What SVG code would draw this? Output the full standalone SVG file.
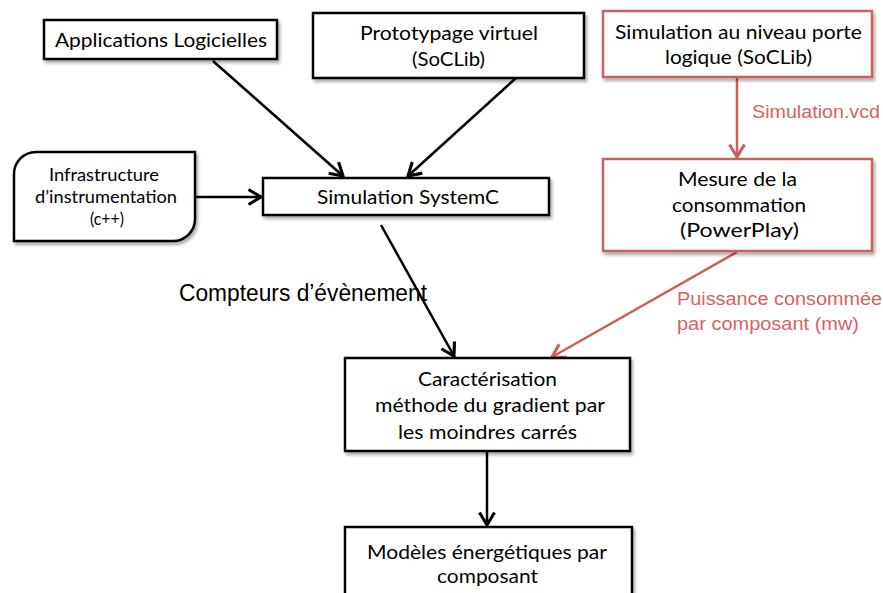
<svg xmlns="http://www.w3.org/2000/svg" width="883" height="593" viewBox="0 0 883 593">
<style>
.box{fill:#fff;stroke:#000;stroke-width:2.5;filter:url(#sh)}
.rbox{fill:#fff;stroke:#cc5f5a;stroke-width:2.5;filter:url(#sh)}
.t{font-family:Lato,"Liberation Sans",Arial,sans-serif;font-size:19px;fill:#000}
.ts{font-family:Lato,"Liberation Sans",Arial,sans-serif;font-size:16.5px;fill:#000}
.lbl{font-family:"Liberation Sans",Arial,sans-serif;font-size:17.5px;fill:#d6635e}
.big{font-family:"Liberation Sans",Arial,sans-serif;font-size:23px;fill:#000}
.blk{fill:none;stroke:#000;stroke-width:2.5;marker-end:url(#ab)}
.red{fill:none;stroke:#cc5f5a;stroke-width:2.5;marker-end:url(#ar)}
</style>
<defs>
<filter id="sh" x="-10%" y="-10%" width="125%" height="130%">
<feDropShadow dx="2" dy="3" stdDeviation="1.5" flood-color="#000" flood-opacity="0.3"/>
</filter>
<marker id="ab" markerUnits="userSpaceOnUse" markerWidth="20" markerHeight="20" viewBox="-12 -8 14 16" refX="0" refY="0" orient="auto">
<path d="M-10,-6 L0,0 L-10,6" fill="none" stroke="#000" stroke-width="2.5"/>
</marker>
<marker id="ar" markerUnits="userSpaceOnUse" markerWidth="20" markerHeight="20" viewBox="-12 -8 14 16" refX="0" refY="0" orient="auto">
<path d="M-10,-6 L0,0 L-10,6" fill="none" stroke="#cc5f5a" stroke-width="2.5"/>
</marker>
</defs>
<rect width="883" height="593" fill="#fff"/>

<g id="connectors">
<line class="blk" x1="213" y1="61" x2="343" y2="176"/>
<line class="blk" x1="516" y1="78" x2="408" y2="176"/>
<line class="blk" x1="195" y1="197" x2="261" y2="197"/>
<line class="blk" x1="381" y1="225" x2="454" y2="356"/>
<line class="blk" x1="487" y1="452" x2="487" y2="525"/>
<line class="red" x1="737" y1="78" x2="737" y2="157"/>
<line class="red" x1="737" y1="252" x2="552" y2="357"/>
<text class="lbl" x="752" y="118" textLength="128" lengthAdjust="spacingAndGlyphs">Simulation.vcd</text>
<text class="lbl" x="677" y="305" textLength="205" lengthAdjust="spacingAndGlyphs">Puissance consommée</text>
<text class="lbl" x="677" y="330" textLength="182" lengthAdjust="spacingAndGlyphs">par composant (mw)</text>
<text class="big" x="179" y="301" textLength="248" lengthAdjust="spacingAndGlyphs">Compteurs d’évènement</text>
</g>

<g id="applications">
<rect class="box" x="44" y="20" width="233" height="39"/>
<text class="t" x="55" y="47" textLength="212" lengthAdjust="spacingAndGlyphs">Applications Logicielles</text>
</g>

<g id="prototypage">
<rect class="box" x="313" y="13" width="271" height="65"/>
<text class="t" x="360" y="40" textLength="178" lengthAdjust="spacingAndGlyphs">Prototypage virtuel</text>
<text class="t" x="412" y="66" textLength="73" lengthAdjust="spacingAndGlyphs">(SoCLib)</text>
</g>

<g id="simulation-porte">
<rect class="rbox" x="603" y="11" width="269" height="66"/>
<text class="t" x="615" y="39" textLength="247" lengthAdjust="spacingAndGlyphs">Simulation au niveau porte</text>
<text class="t" x="665" y="64" textLength="147" lengthAdjust="spacingAndGlyphs">logique (SoCLib)</text>
</g>

<g id="infrastructure">
<path class="box" d="M14,174 A22,22 0 0 1 36,152 L195,152 L195,219 A22,22 0 0 1 173,241 L14,241 Z"/>
<text class="ts" x="49" y="181" textLength="110" lengthAdjust="spacingAndGlyphs">Infrastructure</text>
<text class="ts" x="35" y="203" textLength="142" lengthAdjust="spacingAndGlyphs">d’instrumentation</text>
<text class="ts" x="90" y="225" textLength="34" lengthAdjust="spacingAndGlyphs">(c++)</text>
</g>

<g id="simulation-systemc">
<rect class="box" x="263" y="178" width="286" height="37"/>
<text class="t" x="317" y="204" textLength="182" lengthAdjust="spacingAndGlyphs">Simulation SystemC</text>
</g>

<g id="mesure">
<rect class="rbox" x="603" y="159" width="269" height="92"/>
<text class="t" x="678" y="186" textLength="119" lengthAdjust="spacingAndGlyphs">Mesure de la</text>
<text class="t" x="672" y="212" textLength="134" lengthAdjust="spacingAndGlyphs">consommation</text>
<text class="t" x="680" y="237" textLength="119" lengthAdjust="spacingAndGlyphs">(PowerPlay)</text>
</g>

<g id="caracterisation">
<rect class="box" x="345" y="358" width="285" height="93"/>
<text class="t" x="418" y="386" textLength="139" lengthAdjust="spacingAndGlyphs">Caractérisation</text>
<text class="t" x="375" y="412" textLength="230" lengthAdjust="spacingAndGlyphs">méthode du gradient par</text>
<text class="t" x="398" y="439" textLength="179" lengthAdjust="spacingAndGlyphs">les moindres carrés</text>
</g>

<g id="modeles">
<rect class="box" x="345" y="527" width="287" height="80"/>
<text class="t" x="367" y="559" textLength="240" lengthAdjust="spacingAndGlyphs">Modèles énergétiques par</text>
<text class="t" x="437" y="583" textLength="101" lengthAdjust="spacingAndGlyphs">composant</text>
</g>
</svg>
